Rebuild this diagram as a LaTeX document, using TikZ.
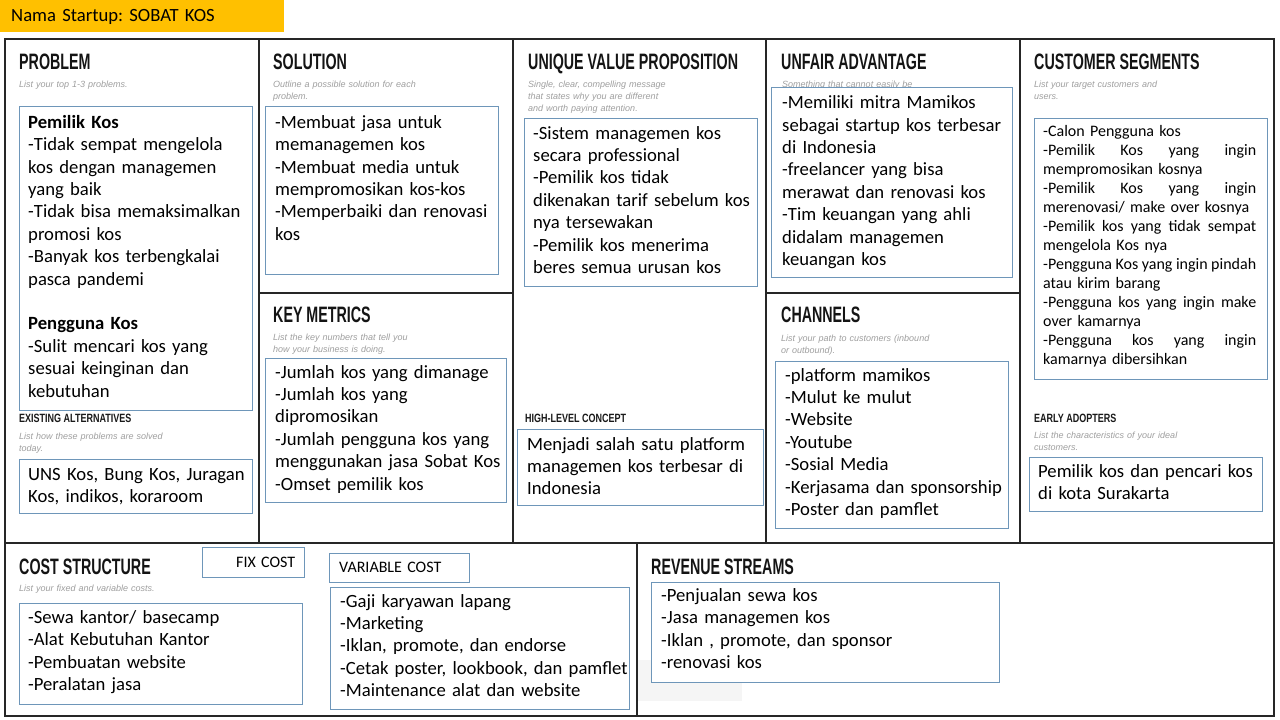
\documentclass[tikz,border=0pt]{standalone}
\usepackage{fontspec}
\setmainfont{Carlito}
\newfontfamily\headfont[FakeStretch=0.64]{Liberation Sans}
\newfontfamily\minorheadfont[FakeStretch=0.75]{Liberation Sans}
\newfontfamily\hintfont{Liberation Sans}
\usetikzlibrary{positioning}
\definecolor{frameBlack}{gray}{0.15}
\definecolor{boxBlue}{RGB}{110,150,185}
\definecolor{hintGray}{gray}{0.62}
\definecolor{bannerYellow}{RGB}{255,192,0}
\newcommand{\spreadline}[1]{\leavevmode\hbox to 213pt{#1}}
\frenchspacing

\begin{document}
\begin{tikzpicture}[x=1pt, y=-1pt,
    frame/.style={line width=2.4pt, frameBlack},
    entry/.style={draw=boxBlue, line width=0.9pt, fill=white},
    title/.style={anchor=base west, inner sep=0pt, text=black!92,
        font=\headfont\bfseries\fontsize{22.3}{24}\selectfont},
    minortitle/.style={anchor=base west, inner sep=0pt, text=black!90,
        font=\minorheadfont\bfseries\fontsize{12}{14}\selectfont},
    hint/.style={anchor=base west, inner sep=0pt, align=left, text width=230pt,
        text=hintGray, font=\hintfont\itshape\fontsize{9}{12}\selectfont},
    body/.style={anchor=base west, inner sep=0pt, align=left, text width=300pt,
        font=\frenchspacing\fontsize{18.67}{22.4}\selectfont},
    small/.style={anchor=base west, inner sep=0pt, align=left, text width=230pt,
        font=\frenchspacing\fontsize{16}{19}\selectfont}]
    \useasboundingbox (0,0) rectangle (1280,720);

    % banner
    \fill[bannerYellow] (0,0) rectangle (284,32);
    \node[body] (startup) at (11,21.7) {Nama Startup: SOBAT KOS};

    % canvas grid
    \draw[frame] (5,39) rectangle (1274,716);
    \foreach \x in {259,513,766,1020}
        \draw[frame] (\x,39) -- (\x,543);
    \draw[frame] (5,543) -- (1274,543);
    \draw[frame] (259,293) -- (513,293);
    \draw[frame] (766,293) -- (1020,293);
    \draw[frame] (637,543) -- (637,716);

    % headings
    \node[title] (problem) at (19,69) {PROBLEM};
    \node[title] (solution) at (273,69) {SOLUTION};
    \node[title] (uvp) at (528,69) {UNIQUE VALUE PROPOSITION};
    \node[title] (unfair) at (781,69) {UNFAIR ADVANTAGE};
    \node[title] (segments) at (1034,69) {CUSTOMER SEGMENTS};
    \node[title] (metrics) at (273,322) {KEY METRICS};
    \node[title] (channels) at (781,322) {CHANNELS};
    \node[title] (cost) at (19,574) {COST STRUCTURE};
    \node[title] (revenue) at (651,574) {REVENUE STREAMS};
    \node[minortitle] (existing) at (19,422) {EXISTING ALTERNATIVES};
    \node[minortitle] (concept) at (525,422) {HIGH-LEVEL CONCEPT};
    \node[minortitle] (adopters) at (1034,422) {EARLY ADOPTERS};

    % hints
    \node[hint] at (19,87) {List your top 1-3 problems.};
    \node[hint] at (273,87) {Outline a possible solution for each\\problem.};
    \node[hint] at (528,87) {Single, clear, compelling message\\that states why you are different\\and worth paying attention.};
    \node[hint] at (782,87.5) {Something that cannot easily be};
    \node[hint] at (1034,87) {List your target customers and\\users.};
    \node[hint] at (273,340) {List the key numbers that tell you\\how your business is doing.};
    \node[hint] at (781,341) {List your path to customers (inbound\\or outbound).};
    \node[hint] at (19,439) {List how these problems are solved\\today.};
    \node[hint] at (1034,438) {List the characteristics of your ideal\\customers.};
    \node[hint] at (19,591) {List your fixed and variable costs.};

    % filled boxes
    \draw[entry] (19,106) rectangle (252,410);
    \node[body] (problemList) at (28,128.3) {\textbf{Pemilik Kos}\\-Tidak sempat mengelola\\kos dengan managemen\\yang baik\\-Tidak bisa memaksimalkan\\promosi kos\\-Banyak kos terbengkalai\\pasca pandemi\\[22.4pt]\textbf{Pengguna Kos}\\-Sulit mencari kos yang\\sesuai keinginan dan\\kebutuhan};

    \draw[entry] (19,459) rectangle (252,513);
    \node[body] (existingList) at (28,480) {UNS Kos, Bung Kos, Juragan\\Kos, indikos, koraroom};

    \draw[entry] (265,106) rectangle (498,274);
    \node[body] (solutionList) at (275,128.3) {-Membuat jasa untuk\\memanagemen kos\\-Membuat media untuk\\mempromosikan kos-kos\\-Memperbaiki dan renovasi\\kos};

    \draw[entry] (265,358) rectangle (506,502);
    \node[body] (metricsList) at (275,378) {-Jumlah kos yang dimanage\\-Jumlah kos yang\\dipromosikan\\-Jumlah pengguna kos yang\\menggunakan jasa Sobat Kos\\-Omset pemilik kos};

    \draw[entry] (524,118) rectangle (757,286);
    \node[body] (uvpList) at (533,139) {-Sistem managemen kos\\secara professional\\-Pemilik kos tidak\\dikenakan tarif sebelum kos\\nya tersewakan\\-Pemilik kos menerima\\beres semua urusan kos};

    \draw[entry] (517,429) rectangle (763,505);
    \node[body] (conceptList) at (527,450) {Menjadi salah satu platform\\managemen kos terbesar di\\Indonesia};

    \draw[entry] (771,87) rectangle (1012,277);
    \node[body] (unfairList) at (782,108.7) {-Memiliki mitra Mamikos\\sebagai startup kos terbesar\\di Indonesia\\-freelancer yang bisa\\merawat dan renovasi kos\\-Tim keuangan yang ahli\\didalam managemen\\keuangan kos};

    \draw[entry] (775,361) rectangle (1008,528);
    \node[body] (channelsList) at (785,381) {-platform mamikos\\-Mulut ke mulut\\-Website\\-Youtube\\-Sosial Media\\-Kerjasama dan sponsorship\\-Poster dan pamflet};

    \draw[entry] (1034,118) rectangle (1267,379);
    \node[small] (segmentsList) at (1043,136) {-Calon Pengguna kos\\\spreadline{-Pemilik\hfill Kos\hfill yang\hfill ingin}\\mempromosikan kosnya\\\spreadline{-Pemilik\hfill Kos\hfill yang\hfill ingin}\\merenovasi/ make over kosnya\\\spreadline{-Pemilik\hfill kos\hfill yang\hfill tidak\hfill sempat}\\mengelola Kos nya\\\spreadline{-Pengguna\hfill Kos\hfill yang\hfill ingin\hfill pindah}\\atau kirim barang\\\spreadline{-Pengguna\hfill kos\hfill yang\hfill ingin\hfill make}\\over kamarnya\\\spreadline{-Pengguna\hfill kos\hfill yang\hfill ingin}\\kamarnya dibersihkan};

    \draw[entry] (1029,457) rectangle (1262,511);
    \node[body] (adoptersList) at (1038,477) {Pemilik kos dan pencari kos\\di kota Surakarta};

    % cost structure
    \draw[entry] (202,547) rectangle (304,577);
    \node[small] (fixCost) at (236,567) {FIX COST};
    \draw[entry] (329,553) rectangle (469,582);
    \node[small] (varCost) at (339,572) {VARIABLE COST};

    \draw[entry] (19,603) rectangle (302,704);
    \node[body] (fixList) at (28,623.5) {-Sewa kantor/ basecamp\\-Alat Kebutuhan Kantor\\-Pembuatan website\\-Peralatan jasa};

    \draw[entry] (330,587) rectangle (629,709);
    \node[body] (varList) at (340,607) {-Gaji karyawan lapang\\-Marketing\\-Iklan, promote, dan endorse\\-Cetak poster, lookbook, dan pamflet\\-Maintenance alat dan website};

    % revenue streams
    \fill[gray!8] (638,660) rectangle (742,701);
    \draw[entry] (651,582) rectangle (999,682);
    \node[body] (revenueList) at (661,601.5) {-Penjualan sewa kos\\-Jasa managemen kos\\-Iklan , promote, dan sponsor\\-renovasi kos};
\end{tikzpicture}
\end{document}
